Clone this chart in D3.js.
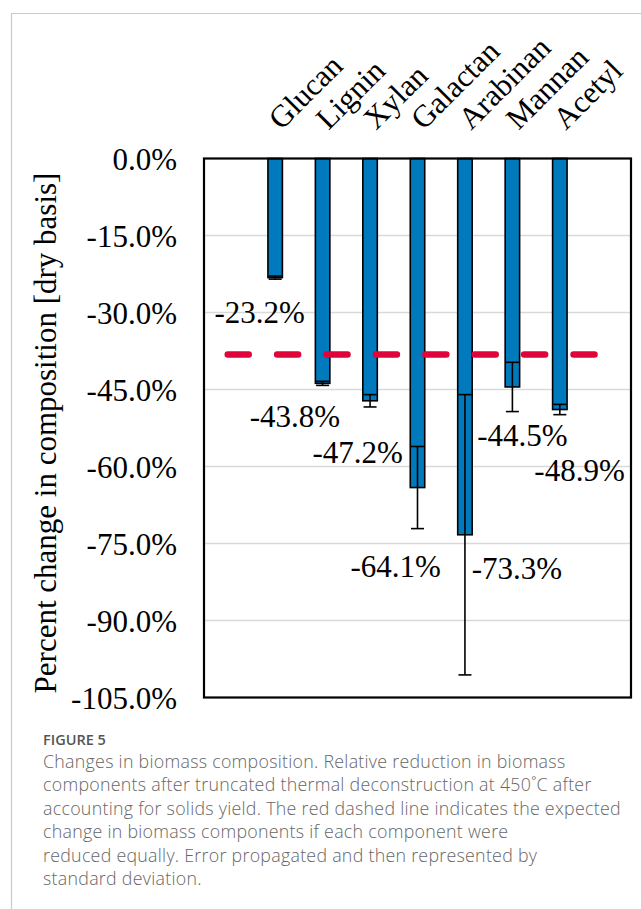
<!DOCTYPE html>
<html>
<head>
<meta charset="utf-8">
<script src="https://cdn.jsdelivr.net/npm/d3@7"></script>
<style>
  html, body { margin: 0; padding: 0; background: #fff; }
  svg { display: block; }
</style>
</head>
<body>
<svg id="chart" width="641" height="909"></svg>
<script>
// Biomass components and their relative change (% dry basis)
const categories = ["Glucan", "Lignin", "Xylan", "Galactan", "Arabinan", "Mannan", "Acetyl"];
const values = [-23.2, -43.8, -47.2, -64.1, -73.3, -44.5, -48.9];
const stdDev = [0.3, 0.4, 1.2, 8.0, 27.3, 4.8, 1.0];
// Expected change if every component were reduced equally
const expectedChange = -38.2;
const yTicks = [0, -15, -30, -45, -60, -75, -90, -105];

// Hand-placed data label anchors: horizontal shift (px) and baseline value (%)
const labelShift = [-15.5, -27.7, -12.3, -21.8, 52, 10, 19.7];
const labelBaseline = [-32.1, -52.4, -59.4, -81.6, -81.9, -56.1, -62.9];

const captionTitle = "FIGURE 5";
const captionLines = [
  "Changes in biomass composition. Relative reduction in biomass",
  "components after truncated thermal deconstruction at 450\u02daC after",
  "accounting for solids yield. The red dashed line indicates the expected",
  "change in biomass components if each component were",
  "reduced equally. Error propagated and then represented by",
  "standard deviation."
];

const svg = d3.select("#chart");
const plot = { left: 204, right: 631, top: 158.5, bottom: 697.5 };
const serif = "'Liberation Serif', 'Times New Roman', serif";
const fs = 31;
// percent with a plain hyphen for negatives
const pct = d => (d < 0 ? "-" : "") + Math.abs(d).toFixed(1) + "%";

// card border
svg.append("path")
  .attr("d", `M11.5,909 V13.5 H641`)
  .attr("fill", "none")
  .attr("stroke", "#c9c9c9")
  .attr("stroke-width", 1.2);

const x = d3.scalePoint().domain(categories).range([plot.left, plot.right]).padding(1.5);
const step = x.step();
const barW = step * 0.305;
const y = d3.scaleLinear().domain([0, -105]).range([plot.top, plot.bottom]);

// gridlines
svg.append("g").selectAll("line")
  .data(yTicks.slice(1, -1))
  .join("line")
  .attr("x1", plot.left).attr("x2", plot.right)
  .attr("y1", d => y(d)).attr("y2", d => y(d))
  .attr("stroke", "#d9d9d9").attr("stroke-width", 1.6);

// y axis tick labels
const yAxis = d3.axisLeft(y).tickValues(yTicks).tickSize(0).tickPadding(27)
  .tickFormat(pct);
const gy = svg.append("g").attr("transform", `translate(${plot.left},0)`).call(yAxis);
gy.select(".domain").remove();
gy.selectAll("text")
  .attr("font-family", serif).attr("font-size", fs).attr("fill", "#000")
  .attr("dy", "0.34em");

// axis title
svg.append("text")
  .attr("transform", `translate(56,433) rotate(-90)`)
  .attr("text-anchor", "middle")
  .attr("font-family", serif).attr("font-size", fs)
  .text("Percent change in composition [dry basis]");

// bars
svg.append("g").selectAll("rect")
  .data(values)
  .join("rect")
  .attr("x", (d, i) => x(categories[i]) - barW / 2)
  .attr("y", y(0))
  .attr("width", barW)
  .attr("height", d => y(d) - y(0))
  .attr("fill", "#007abd")
  .attr("stroke", "#000")
  .attr("stroke-width", 1.6);

// error bars
const capW = 13;
const eg = svg.append("g").attr("stroke", "#000").attr("stroke-width", 1.6);
values.forEach((v, i) => {
  const cx = x(categories[i]);
  const hi = y(v + stdDev[i]), lo = y(v - stdDev[i]);
  eg.append("line").attr("x1", cx).attr("x2", cx).attr("y1", hi).attr("y2", lo);
  eg.append("line").attr("x1", cx - capW / 2).attr("x2", cx + capW / 2).attr("y1", hi).attr("y2", hi);
  eg.append("line").attr("x1", cx - capW / 2).attr("x2", cx + capW / 2).attr("y1", lo).attr("y2", lo);
});

// expected equal-reduction line
svg.append("line")
  .attr("x1", x(categories[0]) - step)
  .attr("x2", x(categories[categories.length - 1]) + step)
  .attr("y1", y(expectedChange)).attr("y2", y(expectedChange))
  .attr("stroke", "#e0043a")
  .attr("stroke-width", 6.5)
  .attr("stroke-linecap", "round")
  .attr("stroke-dasharray", "21,28.4");

// frame
svg.append("rect")
  .attr("x", plot.left).attr("y", plot.top)
  .attr("width", plot.right - plot.left).attr("height", plot.bottom - plot.top)
  .attr("fill", "none").attr("stroke", "#000").attr("stroke-width", 2.2);

// data labels
svg.append("g").selectAll("text")
  .data(values)
  .join("text")
  .attr("x", (d, i) => x(categories[i]) + labelShift[i])
  .attr("y", (d, i) => y(labelBaseline[i]))
  .attr("text-anchor", "middle")
  .attr("font-family", serif).attr("font-size", fs)
  .text(pct);

// category labels, rotated above the plot
svg.append("g").selectAll("text")
  .data(categories)
  .join("text")
  .attr("transform", d => `translate(${x(d) + 6},131) rotate(-45)`)
  .attr("font-family", serif).attr("font-size", fs)
  .text(d => d);

// caption
svg.append("text")
  .attr("x", 43).attr("y", 744.5)
  .attr("font-family", "'Open Sans', sans-serif").attr("font-size", 14.5)
  .attr("font-weight", 600).attr("fill", "#555")
  .text(captionTitle);

svg.append("g").selectAll("text")
  .data(captionLines)
  .join("text")
  .attr("x", 43)
  .attr("y", (d, i) => 767.5 + i * 23.5)
  .attr("font-family", "'Open Sans', sans-serif").attr("font-size", 17.8)
  .attr("font-weight", 300)
  .attr("letter-spacing", 0.28)
  .attr("fill", "#666")
  .text(d => d);
</script>
</body>
</html>
